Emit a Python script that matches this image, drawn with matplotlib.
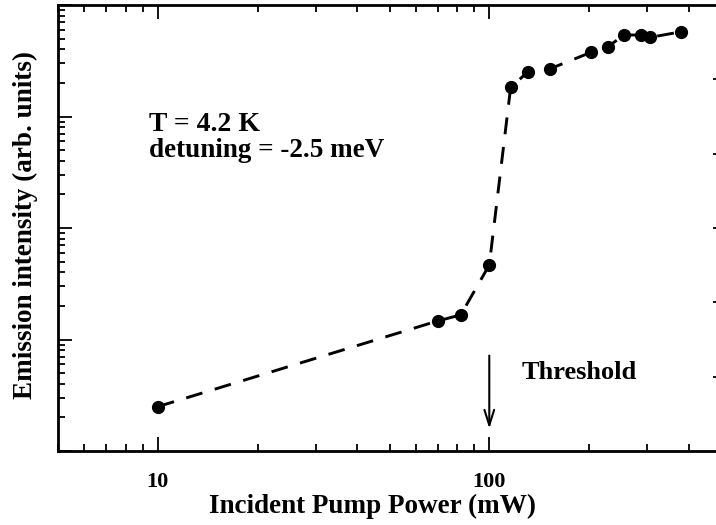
import matplotlib
matplotlib.use('Agg')
import matplotlib.pyplot as plt
from matplotlib.ticker import LogLocator, NullFormatter, FixedLocator, FixedFormatter

# Emission vs pump power (log-log)
pump_power = [10, 70, 82, 100, 116, 131, 152, 203, 228, 255, 286, 306, 380]
intensity = [2.5, 14.7, 16.6, 46.6, 1830, 2520, 2670, 3770, 4230, 5380, 5380, 5130, 5760]

threshold_power = 100
x_ticks = [10, 100]
x_tick_labels = ['10', '100']

plt.rcParams['font.family'] = ['Liberation Serif', 'DejaVu Serif']
plt.rcParams['font.weight'] = 'bold'

fig = plt.figure(figsize=(7.16, 5.25), dpi=100)
ax = fig.add_axes([58 / 716, 74 / 525, 663 / 716, 446 / 525])

ax.plot(pump_power, intensity, color='black', linewidth=2.1,
        dashes=(5.8, 4.4), marker='o', markersize=8.5,
        markerfacecolor='black', markeredgecolor='black')

ax.set_xscale('log')
ax.set_yscale('log')
ax.set_xlim(5, 500)
ax.set_ylim(1, 1e4)

# ticks: inward on all sides, labels only at the decades on x
ax.xaxis.set_major_locator(FixedLocator(x_ticks))
ax.xaxis.set_major_formatter(FixedFormatter(x_tick_labels))
ax.xaxis.set_minor_locator(LogLocator(base=10, subs=range(2, 10)))
ax.xaxis.set_minor_formatter(NullFormatter())
ax.yaxis.set_major_locator(LogLocator(base=10, numticks=10))
ax.yaxis.set_minor_locator(LogLocator(base=10, subs=range(2, 10), numticks=10))
ax.yaxis.set_major_formatter(NullFormatter())
ax.yaxis.set_minor_formatter(NullFormatter())
ax.tick_params(which='both', direction='in', top=True, right=False,
               width=1.3)
ax.tick_params(which='major', length=10)
ax.tick_params(which='minor', length=5)
ax.tick_params(axis='x', which='major', pad=15, labelsize=16)
ax.tick_params(axis='y', labelleft=False)

for side in ['left', 'bottom', 'top', 'right']:
    ax.spines[side].set_linewidth(2)

# second scale on the right, unlabeled ticks only
ax_r = ax.twinx()
ax_r.set_ylim(0, 6)
ax_r.set_yticks([1, 2, 3, 4, 5])
ax_r.set_yticklabels([])
ax_r.tick_params(direction='in', length=6, width=1.3)
ax_r.spines['right'].set_linewidth(2)

ax.set_xlabel('Incident Pump Power (mW)', fontsize=19.5, fontweight='bold')
ax.xaxis.set_label_coords(0.474, -0.095)
ax.set_ylabel('Emission intensity (arb. units)', fontsize=19.5,
              fontweight='bold')
ax.yaxis.set_label_coords(-0.03, 0.507)

ax.text(9.4, 746, 'T = 4.2 K', fontsize=20, fontweight='bold',
        ha='left', va='baseline')
ax.text(9.4, 436, 'detuning = -2.5 meV', fontsize=19.5, fontweight='bold',
        ha='left', va='baseline')

ax.annotate('', xy=(threshold_power, 1.5), xytext=(threshold_power, 7.6),
            arrowprops=dict(arrowstyle='->,head_length=1.1,head_width=0.35',
                            color='black', lw=1.5))
ax.text(125, 5.1, 'Threshold', fontsize=19, fontweight='bold',
        ha='left', va='center')

plt.savefig('out.png', dpi=100)
plt.close()
